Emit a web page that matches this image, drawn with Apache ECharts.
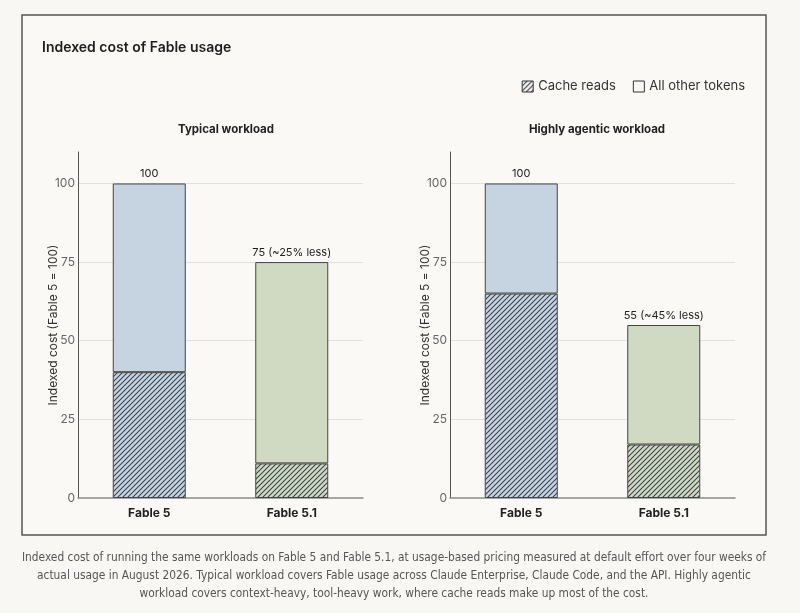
<!DOCTYPE html>
<html>
<head>
<meta charset="utf-8">
<script src="https://cdn.jsdelivr.net/npm/echarts@6/dist/echarts.min.js"></script>
<style>
  html, body { margin: 0; padding: 0; background: #f8f7f3; }
  #chart { width: 800px; height: 613px; }
</style>
</head>
<body>
<div id="chart"></div>
<script>
const categories = ['Fable 5', 'Fable 5.1'];
const typicalCache = [40, 11];
const typicalOther = [60, 64];
const typicalLabels = ['100', '75 (~25% less)'];
const agenticCache = [65, 17];
const agenticOther = [35, 38];
const agenticLabels = ['100', '55 (~45% less)'];
const yTicks = [0, 25, 50, 75, 100];
const yName = 'Indexed cost (Fable 5 = 100)';

const blue = '#c6d4e1';
const green = '#d0d9c1';
const font = 'Inter, "Noto Sans", sans-serif';

// small tile with a diagonal stroke, used as a repeating fill
function hatch(bg) {
    const c = document.createElement('canvas');
    c.width = 5; c.height = 5;
    const g = c.getContext('2d');
    g.fillStyle = bg;
    g.fillRect(0, 0, 5, 5);
    g.strokeStyle = '#3b4550';
    g.lineWidth = 1.1;
    g.beginPath();
    g.moveTo(0, 5); g.lineTo(5, 0);
    g.moveTo(-1, 1); g.lineTo(1, -1);
    g.moveTo(4, 6); g.lineTo(6, 4);
    g.stroke();
    return { image: c, repeat: 'repeat' };
}

const fills = [blue, green];

function cacheData(values) {
    return values.map((v, i) => ({ value: v, itemStyle: { color: hatch(fills[i]) } }));
}
function otherData(values) {
    return values.map((v, i) => ({ value: v, itemStyle: { color: fills[i] } }));
}

function xAxis(idx) {
    return {
        type: 'category', gridIndex: idx, data: categories,
        axisLine: { lineStyle: { color: '#8a8a8a', width: 1.5 } },
        axisTick: { show: false },
        axisLabel: { color: '#222', fontSize: 12, fontWeight: 'bold', fontFamily: font, margin: 9 }
    };
}
function yAxis(idx) {
    return {
        type: 'value', gridIndex: idx, min: 0, max: 110, interval: 25,
        axisLine: { show: true, lineStyle: { color: '#555', width: 1 } },
        axisTick: { show: false },
        axisLabel: {
            color: '#666', fontSize: 12, fontFamily: font, margin: 3, showMaxLabel: false,
            formatter: v => (yTicks.indexOf(v) >= 0 ? String(v) : '')
        },
        splitLine: { show: true, showMinLine: false, showMaxLine: false, lineStyle: { color: '#e2e0da', width: 1 } }
    };
}

function bars(name, data, idx, labels) {
    const s = {
        name: name, type: 'bar', stack: 'g' + idx, xAxisIndex: idx, yAxisIndex: idx,
        barWidth: 73, data: data,
        itemStyle: { borderColor: '#444', borderWidth: 1 },
        emphasis: { disabled: true }
    };
    if (labels) {
        s.label = {
            show: true, position: 'top', distance: 4,
            color: '#222', fontSize: 11, fontFamily: font,
            formatter: p => labels[p.dataIndex]
        };
    }
    return s;
}

function axisName(x) {
    return {
        type: 'text', x: x, y: 325, rotation: Math.PI / 2,
        style: { text: yName, align: 'center', verticalAlign: 'middle',
                 fill: '#333', fontSize: 12, fontFamily: font }
    };
}

const chart = echarts.init(document.getElementById('chart'));
chart.setOption({
    backgroundColor: '#f8f7f3',
    animation: false,
    title: [
        { text: 'Indexed cost of Fable usage', left: 37, top: 36,
          textStyle: { fontSize: 14, fontWeight: 600, color: '#1e1e1e', fontFamily: font } },
        { text: 'Typical workload', left: 221, top: 119, textAlign: 'center',
          textStyle: { fontSize: 11.5, fontWeight: 'bold', color: '#222', fontFamily: font } },
        { text: 'Highly agentic workload', left: 592, top: 119, textAlign: 'center',
          textStyle: { fontSize: 11.5, fontWeight: 'bold', color: '#222', fontFamily: font } }
    ],
    legend: {
        right: 50, top: 75, itemWidth: 11, itemHeight: 11, itemGap: 17, icon: 'rect',
        textStyle: { color: '#333', fontSize: 13, fontFamily: font },
        selectedMode: false,
        data: [
            { name: 'Cache reads', itemStyle: { color: hatch('#f3f2ee'), borderColor: '#333', borderWidth: 1 } },
            { name: 'All other tokens', itemStyle: { color: '#f8f7f3', borderColor: '#333', borderWidth: 1 } }
        ]
    },
    grid: [
        { left: 78, right: 437, top: 152, bottom: 115 },
        { left: 450, right: 65, top: 152, bottom: 115 }
    ],
    xAxis: [xAxis(0), xAxis(1)],
    yAxis: [yAxis(0), yAxis(1)],
    series: [
        bars('Cache reads', cacheData(typicalCache), 0),
        bars('All other tokens', otherData(typicalOther), 0, typicalLabels),
        bars('Cache reads', cacheData(agenticCache), 1),
        bars('All other tokens', otherData(agenticOther), 1, agenticLabels)
    ],
    graphic: [
        { type: 'rect', z: -1, shape: { x: 22, y: 15, width: 744, height: 520 },
          style: { fill: '#faf9f6', stroke: '#555', lineWidth: 1.5 } },
        axisName(53),
        axisName(425),
        { type: 'text', x: 394, y: 549, scaleX: 0.91,
          style: {
              text: 'Indexed cost of running the same workloads on Fable 5 and Fable 5.1, at usage-based pricing measured at default effort over four weeks of\n' +
                    'actual usage in August 2026. Typical workload covers Fable usage across Claude Enterprise, Claude Code, and the API. Highly agentic\n' +
                    'workload covers context-heavy, tool-heavy work, where cache reads make up most of the cost.',
              align: 'center', fill: '#555', fontSize: 13, lineHeight: 18,
              fontFamily: '"Liberation Sans Narrow", "DejaVu Sans Condensed", sans-serif'
          } }
    ]
});
</script>
</body>
</html>
